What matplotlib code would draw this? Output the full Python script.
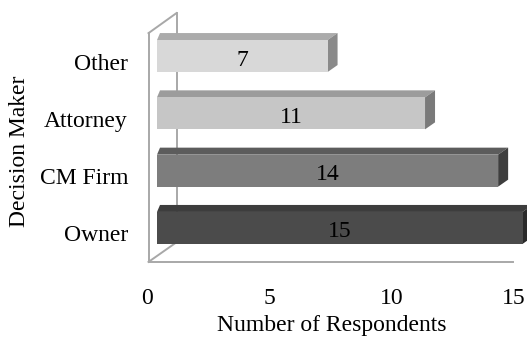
import matplotlib
matplotlib.use("Agg")
import matplotlib.pyplot as plt
from matplotlib.patches import Polygon
from matplotlib.lines import Line2D

# Data
categories = ["Owner", "CM Firm", "Attorney", "Other"]
respondents = [15, 14, 11, 7]
tick_values = [0, 5, 10, 15]

front_colors = ["#4b4b4b", "#7d7d7d", "#c6c6c6", "#d8d8d8"]
top_colors = ["#3d3d3d", "#5c5c5c", "#9c9c9c", "#ababab"]
side_colors = ["#2a2a2a", "#3e3e3e", "#7a7a7a", "#8a8a8a"]

plt.rcParams["font.family"] = ["Liberation Serif", "DejaVu Serif"]
FS = 17

W, H = 527, 339
fig = plt.figure(figsize=(W / 100, H / 100), dpi=100)

# main plotting region (pixel-based placement)
x0_px, x1_px = 157, 522.5
top_px, bot_px = 27.4, 256.6
ax = fig.add_axes([x0_px / W, 1 - bot_px / H, (x1_px - x0_px) / W, (bot_px - top_px) / H])
ax.set_xlim(0, 15)
ax.set_ylim(-0.5, 3.5)
ax.set_axis_off()

sx = (x1_px - x0_px) / 15.0          # px per respondent
sy = (bot_px - top_px) / 4.0         # px per category
depth_x = 10 / sx
depth_y = 7 / sy
bar_h = 32 / sy

# walls / floor outline
wall_col = "#a8a8a8"
fx, bx = -8.5 / sx, 19.5 / sx
f_top, f_bot = 3.40, -0.593
b_top, b_bot = 3.75, -0.25
floor_end = (513 - x0_px) / sx
for xs, ys in [([fx, fx], [f_bot, f_top]),
               ([fx, bx], [f_top, b_top]),
               ([bx, bx], [b_top, b_bot]),
               ([fx, bx], [f_bot, b_bot]),
               ([fx, floor_end], [f_bot, f_bot])]:
    ax.add_line(Line2D(xs, ys, color=wall_col, lw=1.4, clip_on=False, zorder=1))

# 3D-style horizontal bars
ypos = list(range(len(categories)))
bars = ax.barh(ypos, respondents, height=bar_h, color=front_colors,
               edgecolor="none", zorder=3)
for y, v, bar, tc, sc in zip(ypos, respondents, bars, top_colors, side_colors):
    t = y + bar_h / 2
    b = y - bar_h / 2
    top = Polygon([(0, t), (v, t), (v + depth_x, t + depth_y), (depth_x * 0.3, t + depth_y)],
                  closed=True, facecolor=tc, edgecolor="none", zorder=2, clip_on=False)
    side = Polygon([(v, b), (v, t), (v + depth_x, t + depth_y), (v + depth_x, b + depth_y)],
                   closed=True, facecolor=sc, edgecolor="none", zorder=2, clip_on=False)
    ax.add_patch(top)
    ax.add_patch(side)
    ax.text(v / 2, y - 4 / sy, str(v), ha="center", va="center", fontsize=FS,
            color="black", zorder=5)

# category labels
for y, c in zip(ypos, categories):
    ax.text(-29 / sx, y - 8 / sy, c, ha="right", va="center", fontsize=FS)

# floor scale with tick labels
fl = fig.add_axes([147 / W, 1 - 262 / H, (514 - 147) / W, 0.001])
fl.set_xlim(0, 15)
fl.set_xticks(tick_values)
fl.set_xticklabels([str(t) for t in tick_values], fontsize=FS)
fl.set_yticks([])
fl.tick_params(axis="x", length=0, pad=19)
for s in fl.spines.values():
    s.set_visible(False)
fl.patch.set_alpha(0)

fig.text(331.5 / W, 1 - 326 / H, "Number of Respondents", ha="center", va="center",
         fontsize=FS)
fig.text(20 / W, 1 - 151 / H, "Decision Maker", ha="center", va="center",
         rotation=90, fontsize=FS)

fig.savefig("out.png", dpi=100)
